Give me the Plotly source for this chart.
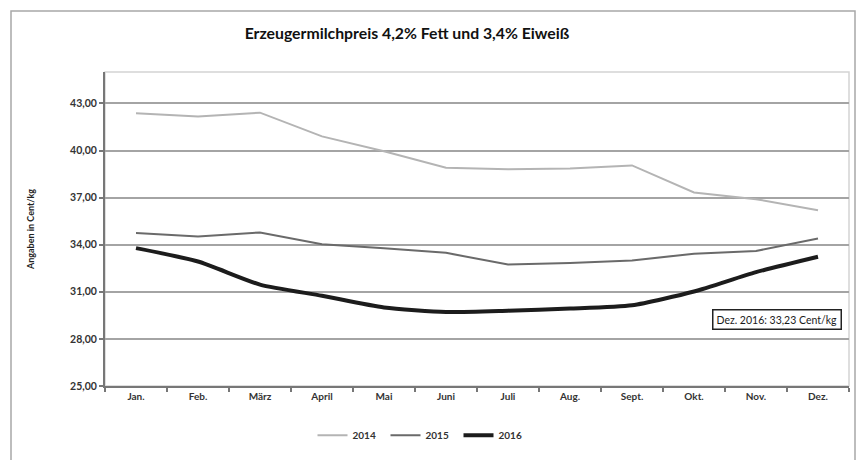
import plotly.graph_objects as go

# Monthly producer milk price (4.2 % fat, 3.4 % protein), cent/kg
months = ["Jan.", "Feb.", "März", "April", "Mai", "Juni",
          "Juli", "Aug.", "Sept.", "Okt.", "Nov.", "Dez."]
price_2014 = [42.37, 42.16, 42.41, 40.90, 39.95, 38.90,
              38.80, 38.85, 39.05, 37.33, 36.90, 36.19]
price_2015 = [34.74, 34.53, 34.78, 34.03, 33.77, 33.48,
              32.74, 32.84, 32.99, 33.43, 33.60, 34.40]
price_2016 = [33.78, 32.93, 31.46, 30.75, 30.00, 29.72,
              29.80, 29.93, 30.14, 31.02, 32.25, 33.23]
y_ticks = [25, 28, 31, 34, 37, 40, 43]

FONT = "Lato"
W, H = 859, 460
L, R, T, B = 105, 10, 72, 69

fig = go.Figure()
fig.add_trace(go.Scatter(x=months, y=price_2014, name="2014", mode="lines",
                         line=dict(color="#b4b4b4", width=2)))
fig.add_trace(go.Scatter(x=months, y=price_2015, name="2015", mode="lines",
                         line=dict(color="#6a6a6a", width=2)))
fig.add_trace(go.Scatter(x=months, y=price_2016, name="2016", mode="lines",
                         line=dict(color="#1c1c1c", width=4, shape="spline",
                                   smoothing=0.6)))

px = lambda v: (v - L) / (W - L - R)
py = lambda v: (H - B - v) / (H - T - B)

last = price_2016[-1]
label = f"{months[-1]} 2016: " + f"{last:.2f}".replace(".", ",") + " Cent/kg"

fig.add_annotation(xref="paper", yref="y", x=px(777), y=29.25,
                   xanchor="center", yanchor="middle",
                   text=label, showarrow=False,
                   font=dict(family=FONT, size=10.5, color="#1a1a1a"),
                   bordercolor="#222", borderwidth=1.5, borderpad=3,
                   bgcolor="white")

# plot-area frame (light top/right) and outer chart border
fig.add_shape(type="rect", xref="paper", yref="paper", x0=0, x1=1, y0=0, y1=1,
              line=dict(color="#d4d4d4", width=1.5), layer="below")
fig.add_shape(type="rect", xref="paper", yref="paper",
              x0=px(11), x1=px(855), y0=py(470), y1=py(10),
              line=dict(color="#a8a8a8", width=1.5))

fig.update_layout(
    width=W, height=H,
    margin=dict(l=L, r=R, t=T, b=B),
    paper_bgcolor="white", plot_bgcolor="white",
    separators=",.",
    font=dict(family=FONT, size=10, color="#333"),
    title=dict(text="<b>Erzeugermilchpreis 4,2% Fett und 3,4% Eiweiß</b>",
               x=px(407), xref="paper", xanchor="center",
               y=1 - 33 / H, yanchor="middle",
               font=dict(family=FONT, size=15.8, color="#111")),
    showlegend=True,
    legend=dict(orientation="h", x=px(422), xanchor="center",
                y=py(441), yanchor="middle",
                font=dict(family=FONT, size=10, color="#333", weight="bold"),
                entrywidth=28, itemwidth=30),
    xaxis=dict(type="category", range=[-0.5, 11.5], tickson="boundaries",
               ticks="outside", ticklen=4, tickcolor="#777", tickwidth=1.5,
               showline=True, linecolor="#777", linewidth=2,
               showgrid=False, fixedrange=True,
               tickfont=dict(family=FONT, size=10, color="#333", weight="bold")),
    yaxis=dict(range=[25, 45], tickvals=y_ticks, tickformat=".2f",
               ticks="outside", ticklen=4, tickcolor="#777", tickwidth=1.5,
               showline=True, linecolor="#777", linewidth=2,
               showgrid=True, gridcolor="#a4a4a4", gridwidth=1.5,
               zeroline=False, fixedrange=True,
               tickfont=dict(family=FONT, size=10.5, color="#333", weight="bold"),
               title=dict(text="Angaben in Cent/kg", standoff=34,
                          font=dict(family=FONT, size=9, color="#222",
                                    weight="bold"))),
)

fig.write_html("out.html")
